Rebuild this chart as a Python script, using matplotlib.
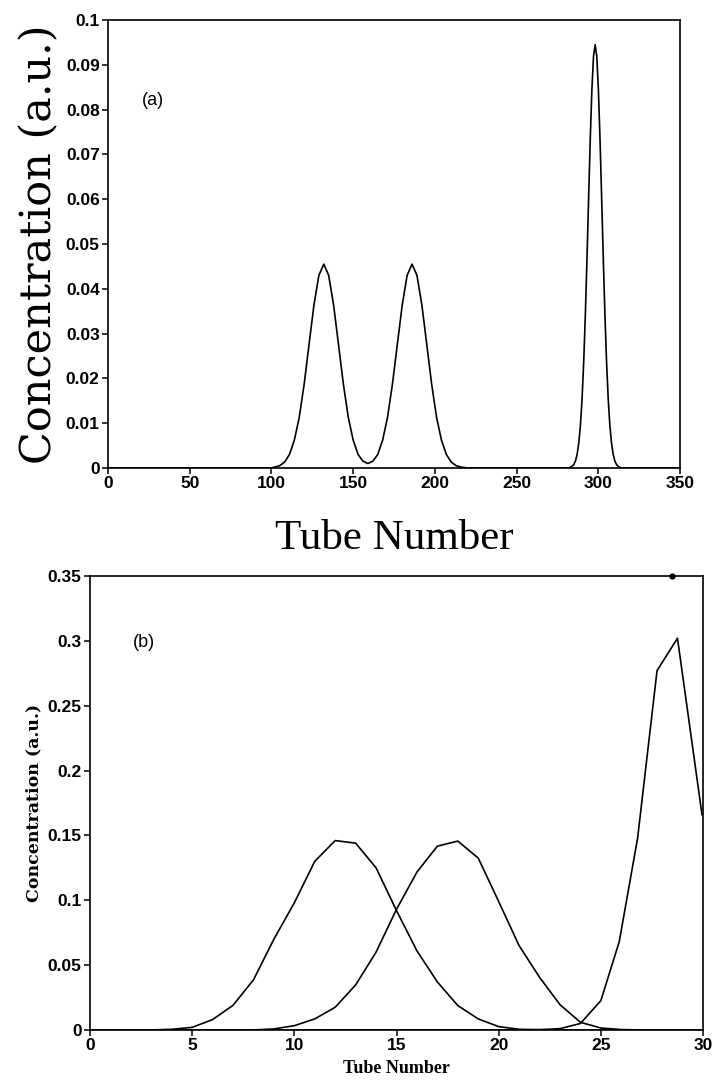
import matplotlib
matplotlib.use("Agg")
import matplotlib.pyplot as plt

# panel (a): tube number vs concentration
tube_a = [0, 100, 102, 105, 108, 111, 114, 117, 120, 123, 126, 129, 132, 135, 138, 141,
          144, 147, 150, 153, 156, 159, 162, 165, 168, 171, 174, 177, 180, 183, 186,
          189, 192, 195, 198, 201, 204, 207, 210, 213, 216, 220, 282,
          283, 284, 285, 286, 287, 288, 289, 290, 291, 292, 293, 294, 295, 296, 297,
          298, 299, 300, 301, 302, 303, 304, 305, 306, 307, 308, 309, 310, 311, 312,
          313, 314, 350]
conc_a = [0, 0, 0.0002, 0.0005, 0.0013, 0.0030, 0.0062, 0.0113, 0.0187, 0.0276, 0.0364,
          0.0430, 0.0455, 0.0430, 0.0364, 0.0276, 0.0187, 0.0113, 0.0062, 0.0030,
          0.0015, 0.0010, 0.0015, 0.0030, 0.0062, 0.0113, 0.0187, 0.0276, 0.0364,
          0.0430, 0.0455, 0.0430, 0.0364, 0.0276, 0.0187, 0.0113, 0.0062, 0.0030,
          0.0013, 0.0005, 0.0002, 0, 0,
          0.0002, 0.0004, 0.0008, 0.0016, 0.0031, 0.0056, 0.0095, 0.0154, 0.0236,
          0.0341, 0.0465, 0.0600, 0.0732, 0.0844, 0.0919, 0.0945, 0.0919, 0.0844,
          0.0732, 0.0600, 0.0465, 0.0341, 0.0236, 0.0154, 0.0095, 0.0056, 0.0031,
          0.0016, 0.0008, 0.0004, 0.0002, 0, 0]

yticks_a = [0, 0.01, 0.02, 0.03, 0.04, 0.05, 0.06, 0.07, 0.08, 0.09, 0.1]
ylabels_a = ['0', '0.01', '0.02', '0.03', '0.04', '0.05', '0.06', '0.07', '0.08', '0.09', '0.1']
xticks_a = [0, 50, 100, 150, 200, 250, 300, 350]

# panel (b): three peaks, sampled per tube
tube_b = list(range(0, 31))
peak1 = [0, 0, 0, 0, 0.0005, 0.002, 0.008, 0.019, 0.0386, 0.070, 0.098, 0.130, 0.146,
         0.144, 0.125, 0.092, 0.061, 0.037, 0.0188, 0.0085, 0.0026, 0.0005, 0.0002,
         0, 0, 0, 0, 0, 0, 0, 0]
peak2 = [0, 0, 0, 0, 0, 0, 0, 0, 0, 0.0008, 0.0033, 0.0085, 0.0175, 0.0347, 0.060,
         0.093, 0.1217, 0.1417, 0.1456, 0.1325, 0.0990, 0.065, 0.0406, 0.0195, 0.0059,
         0.0015, 0.0003, 0, 0, 0, 0]
tube_b3 = [0, 21, 22, 23, 24, 25, 25.9, 26.8, 27.75, 28.75, 29.95]
peak3 = [0, 0, 0.0002, 0.001, 0.005, 0.0226, 0.068, 0.148, 0.277, 0.302, 0.166]
dot_b = (28.5, 0.35)

yticks_b = [0, 0.05, 0.1, 0.15, 0.2, 0.25, 0.3, 0.35]
ylabels_b = ['0', '0.05', '0.1', '0.15', '0.2', '0.25', '0.3', '0.35']
xticks_b = [0, 5, 10, 15, 20, 25, 30]

tickfont = {'family': 'Liberation Sans', 'weight': 'bold', 'size': 12.5}

fig = plt.figure(figsize=(7.17, 10.82), dpi=100)

# (a)
ax1 = fig.add_axes([0.1506, 0.5675, 0.798, 0.414])
ax1.plot(tube_a, conc_a, color='black', lw=1.2)
ax1.set_xlim(0, 350)
ax1.set_ylim(0, 0.1)
ax1.set_xticks(xticks_a)
ax1.set_xticklabels([str(t) for t in xticks_a], fontdict=tickfont)
ax1.set_yticks(yticks_a)
ax1.set_yticklabels(ylabels_a, fontdict=tickfont)
ax1.text(21, 0.082, '(a)', fontsize=13, family='Liberation Sans', ha='left', va='center')
ax1.set_xlabel('Tube Number', family='Liberation Serif', fontsize=31, labelpad=20)
ax1.set_ylabel('Concentration (a.u.)', family='DejaVu Serif', fontsize=31, labelpad=4)

# (b)
ax2 = fig.add_axes([0.1255, 0.0481, 0.855, 0.4196])
ax2.plot(tube_b, peak1, color='black', lw=1.2)
ax2.plot(tube_b, peak2, color='black', lw=1.2)
ax2.plot(tube_b3, peak3, color='black', lw=1.2)
ax2.plot([dot_b[0]], [dot_b[1]], 'o', color='black', ms=3.5, clip_on=False)
ax2.set_xlim(0, 30)
ax2.set_ylim(0, 0.35)
ax2.set_xticks(xticks_b)
ax2.set_xticklabels([str(t) for t in xticks_b], fontdict=tickfont)
ax2.set_yticks(yticks_b)
ax2.set_yticklabels(ylabels_b, fontdict=tickfont)
ax2.text(2.1, 0.299, '(b)', fontsize=13, family='Liberation Sans', ha='left', va='center')
ax2.set_xlabel('Tube Number', family='Liberation Serif', fontweight='bold', fontsize=13, labelpad=5)
ax2.set_ylabel('Concentration (a.u.)', family='DejaVu Serif', fontweight='bold', fontsize=12.5, labelpad=4)

for ax in (ax1, ax2):
    for s in ax.spines.values():
        s.set_linewidth(1.2)
    ax.tick_params(direction='out', length=4, width=1.1, pad=2)

fig.savefig('out.png', dpi=100)
